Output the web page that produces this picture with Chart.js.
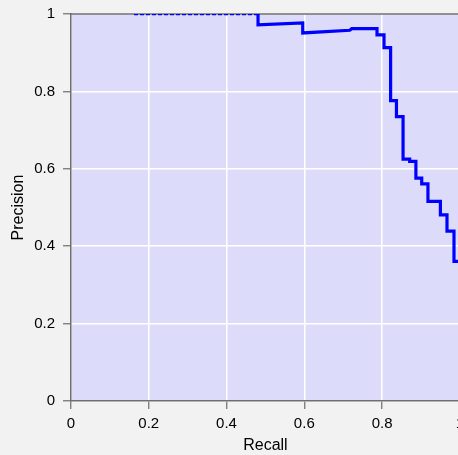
<!DOCTYPE html>
<html>
<head>
<meta charset="utf-8">
<script src="https://cdn.jsdelivr.net/npm/chart.js@4/dist/chart.umd.min.js"></script>
<style>
  html, body { margin: 0; padding: 0; background: #f2f2f2; overflow: hidden; }
  #wrap { width: 470px; height: 458px; margin-top: -3px; }
</style>
</head>
<body>
<div id="wrap"><canvas id="prChart" width="470" height="458"></canvas></div>
<script>
// precision-recall curve (step corners)
const recall = [0.162, 0.481, 0.481, 0.596, 0.596, 0.717, 0.722, 0.787, 0.787, 0.805, 0.805,
  0.822, 0.822, 0.837, 0.837, 0.854, 0.854, 0.871, 0.871, 0.887, 0.887, 0.902, 0.902,
  0.918, 0.918, 0.950, 0.950, 0.967, 0.967, 0.985, 0.985, 1.0];
const precision = [1.0, 1.0, 0.972, 0.977, 0.951, 0.958, 0.962, 0.962, 0.946, 0.946, 0.913,
  0.913, 0.776, 0.776, 0.735, 0.735, 0.625, 0.625, 0.619, 0.619, 0.576, 0.576, 0.561,
  0.561, 0.516, 0.516, 0.481, 0.481, 0.439, 0.439, 0.361, 0.361];
const xTicks = [0, 0.2, 0.4, 0.6, 0.8, 1];
const yTicks = [0, 0.2, 0.4, 0.6, 0.8, 1];

const axisGray = '#6e6e6e';
const fontName = '"Liberation Sans", Arial, sans-serif';

const points = recall.map((r, i) => ({ x: r, y: precision[i] }));

// lavender plot background and top frame line
const plotFrame = {
  id: 'plotFrame',
  beforeDraw(chart) {
    const { ctx, chartArea: a } = chart;
    ctx.save();
    ctx.fillStyle = '#dcdcfa';
    ctx.fillRect(a.left, a.top, a.right - a.left, a.bottom - a.top);
    ctx.restore();
  },
  beforeDatasetsDraw(chart) {
    const { ctx, chartArea: a } = chart;
    ctx.save();
    ctx.strokeStyle = axisGray;
    ctx.lineWidth = 1.5;
    ctx.beginPath();
    ctx.moveTo(a.left, a.top);
    ctx.lineTo(a.right, a.top);
    ctx.stroke();
    ctx.restore();
  }
};

new Chart(document.getElementById('prChart'), {
  type: 'line',
  data: {
    datasets: [{
      data: points,
      borderColor: '#0000ff',
      borderWidth: 3.2,
      pointRadius: 0,
      tension: 0,
      fill: false,
      segment: {
        borderDash: c => (c.p0DataIndex === 0 ? [4, 2] : undefined),
        borderWidth: c => (c.p0DataIndex === 0 ? 2.5 : 3.2)
      }
    }]
  },
  plugins: [plotFrame],
  options: {
    responsive: false,
    animation: false,
    layout: { padding: { top: 10, left: 0, right: 0, bottom: 0 } },
    plugins: { legend: { display: false }, tooltip: { enabled: false } },
    scales: {
      x: {
        type: 'linear',
        min: 0,
        max: 1,
        afterBuildTicks: s => { s.ticks = xTicks.map(v => ({ value: v })); },
        afterFit: s => { s.height = 54; },
        ticks: {
          color: '#000',
          font: { family: fontName, size: 15 },
          padding: 6,
          callback: v => String(v)
        },
        grid: { color: '#ffffff', lineWidth: 1.5, tickLength: 8, tickColor: axisGray, tickWidth: 1.2 },
        border: { color: axisGray, width: 1.5 },
        title: {
          display: true,
          text: 'Recall',
          color: '#000',
          font: { family: fontName, size: 16 },
          padding: { top: 0, bottom: 0 }
        }
      },
      y: {
        type: 'linear',
        min: 0,
        max: 1,
        afterBuildTicks: s => { s.ticks = yTicks.map(v => ({ value: v })); },
        afterFit: s => { s.width = 71; },
        ticks: {
          color: '#000',
          font: { family: fontName, size: 15 },
          padding: 8,
          callback: v => String(v)
        },
        grid: { color: '#ffffff', lineWidth: 1.5, tickLength: 8, tickColor: axisGray, tickWidth: 1.2 },
        border: { color: axisGray, width: 1.5 },
        title: {
          display: true,
          text: 'Precision',
          color: '#000',
          font: { family: fontName, size: 16 },
          padding: { top: 9, bottom: 0 }
        }
      }
    }
  }
});
</script>
</body>
</html>
